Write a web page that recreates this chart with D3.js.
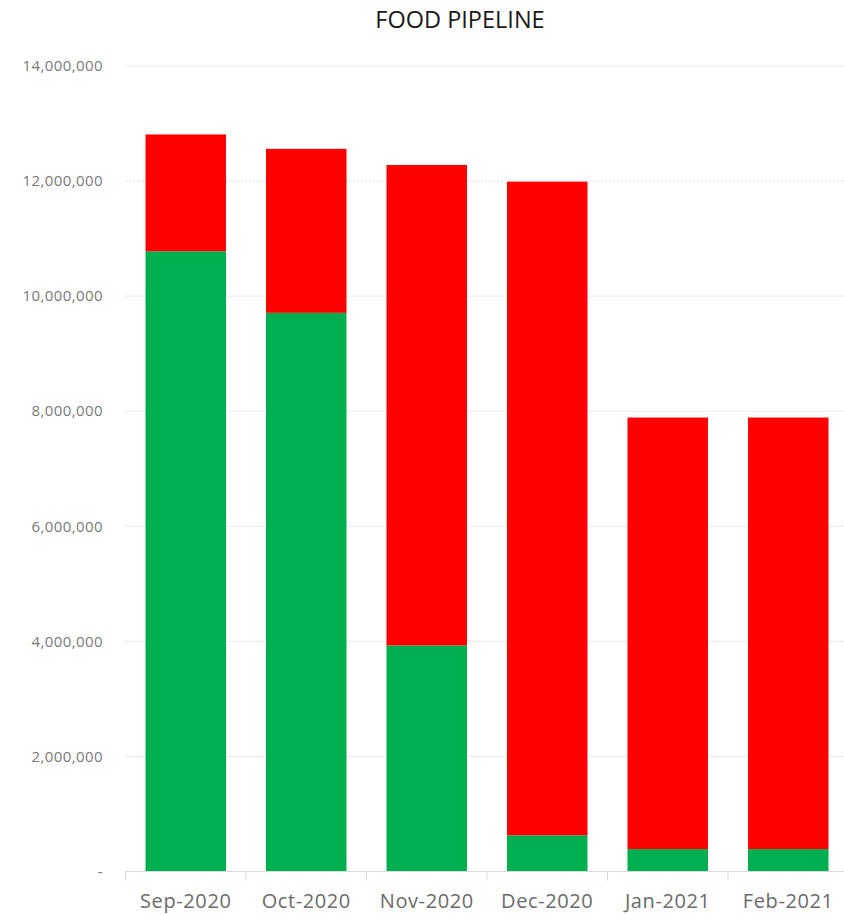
<!DOCTYPE html>
<html>
<head>
<meta charset="utf-8">
<script src="https://cdn.jsdelivr.net/npm/d3@7"></script>
<style>
  html, body { margin: 0; padding: 0; background: #fff; }
  svg { display: block; font-family: "Open Sans", "Noto Sans", sans-serif; }
</style>
</head>
<body>
<svg id="chart" width="844" height="915"></svg>
<script>
// Monthly food pipeline, split into the covered (green) and uncovered (red) parts
const months = ["Sep-2020", "Oct-2020", "Nov-2020", "Dec-2020", "Jan-2021", "Feb-2021"];
const covered = [10780000, 9710000, 3930000, 630000, 390000, 390000];
const shortfall = [2030000, 2850000, 8350000, 11360000, 7500000, 7500000];
const yTicks = [0, 2000000, 4000000, 6000000, 8000000, 10000000, 12000000, 14000000];
const seriesKeys = ["covered", "shortfall"];
const seriesColors = ["#00B050", "#FF0000"];

const rows = months.map((m, i) => ({ month: m, covered: covered[i], shortfall: shortfall[i] }));

const svg = d3.select("#chart");
const plotLeft = 125.5, plotRight = 848.5, plotTop = 66, plotBottom = 871.5;

const x = d3.scaleBand().domain(months).range([plotLeft, plotRight])
  .paddingInner(0.332).paddingOuter(0.166);
const y = d3.scaleLinear().domain([0, 14000000]).range([plotBottom, plotTop]);

// Title
svg.append("text")
  .attr("x", 460).attr("y", 28)
  .attr("text-anchor", "middle")
  .attr("font-size", 23.5)
  .attr("fill", "#1a1a1a")
  .text("FOOD PIPELINE");

// Horizontal gridlines
svg.append("g").selectAll("line")
  .data(yTicks.filter(d => d > 0))
  .join("line")
  .attr("x1", plotLeft).attr("x2", plotRight)
  .attr("y1", d => y(d)).attr("y2", d => y(d))
  .attr("stroke", "#d9d9d9")
  .attr("stroke-width", 1)
  .attr("stroke-dasharray", "2,2");

// Y axis labels
const fmt = d3.format(",");
svg.append("g").selectAll("text")
  .data(yTicks)
  .join("text")
  .attr("x", 103)
  .attr("y", d => y(d))
  .attr("dy", "0.35em")
  .attr("text-anchor", "end")
  .attr("font-size", 15)
  .attr("letter-spacing", 0.4)
  .attr("fill", "#7a7a7a")
  .text(d => d === 0 ? "-" : fmt(d));

// Stacked bars
const stack = d3.stack().keys(seriesKeys)(rows);
svg.append("g").selectAll("g")
  .data(stack)
  .join("g")
  .attr("fill", (d, i) => seriesColors[i])
  .selectAll("rect")
  .data(d => d)
  .join("rect")
  .attr("x", d => x(d.data.month))
  .attr("width", x.bandwidth())
  .attr("y", d => y(d[1]))
  .attr("height", d => y(d[0]) - y(d[1]));

// X axis with category boundary ticks
const xAxis = d3.axisBottom(x).tickSize(0).tickPadding(22);
const gx = svg.append("g")
  .attr("transform", `translate(0,${plotBottom})`)
  .call(xAxis);
gx.select(".domain").attr("stroke", "#d9d9d9").attr("d", `M${plotLeft},0H${plotRight}`);
gx.selectAll(".tick text")
  .attr("font-size", 20)
  .attr("letter-spacing", 0.6)
  .attr("font-family", "\"Open Sans\", sans-serif")
  .attr("fill", "#6b6b6b");

const step = x.step();
svg.append("g").selectAll("line")
  .data(d3.range(months.length + 1))
  .join("line")
  .attr("x1", i => plotLeft + i * step).attr("x2", i => plotLeft + i * step)
  .attr("y1", plotBottom).attr("y2", plotBottom + 9)
  .attr("stroke", "#d9d9d9");
</script>
</body>
</html>
